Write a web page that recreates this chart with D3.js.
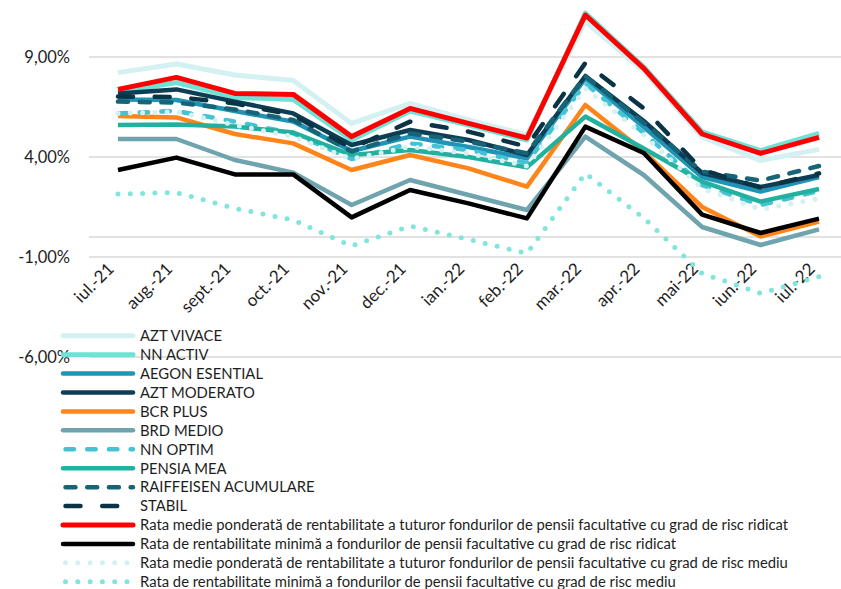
<!DOCTYPE html>
<html>
<head>
<meta charset="utf-8">
<script src="https://cdn.jsdelivr.net/npm/d3@7"></script>
<style>
  body { margin: 0; background: #fff; }
  svg { display: block; font-family: Lato, "Open Sans", sans-serif; }
</style>
</head>
<body>
<script>
"use strict";

// categories (months)
var months = ["iul.-21", "aug.-21", "sept.-21", "oct.-21", "nov.-21", "dec.-21", "ian.-22",
              "feb.-22", "mar.-22", "apr.-22", "mai-22", "iun.-22", "iul.-22"];

// y axis ticks (percent)
var yTicks = [9, 4, -1, -6];

// series values, %
var aztVivace   = [8.22, 8.65, 8.10, 7.82, 5.68, 6.68, 5.85, 5.10, 10.77, 8.30, 5.00, 3.82, 4.38];
var nnActiv     = [7.25, 7.72, 6.98, 6.88, 4.85, 6.30, 5.60, 4.85, 11.20, 8.50, 5.25, 4.32, 5.18];
var aegon       = [6.88, 6.85, 6.30, 5.77, 4.30, 5.02, 4.50, 3.93, 7.93, 5.50, 3.00, 2.27, 3.00];
var aztModerato = [7.18, 7.38, 6.77, 6.18, 4.60, 5.35, 4.85, 4.10, 8.05, 5.80, 3.20, 2.50, 3.10];
var bcrPlus     = [6.05, 5.98, 5.15, 4.68, 3.35, 4.10, 3.43, 2.52, 6.60, 4.27, 1.50, 0.02, 0.77];
var brdMedio    = [4.90, 4.90, 3.85, 3.22, 1.60, 2.85, 2.10, 1.35, 5.02, 3.10, 0.50, -0.40, 0.38];
var nnOptim     = [6.18, 6.30, 5.77, 5.18, 3.90, 4.68, 4.35, 3.70, 7.68, 5.20, 2.60, 1.60, 2.30];
var pensiaMea   = [5.60, 5.63, 5.52, 5.22, 4.10, 4.35, 4.00, 3.48, 6.02, 4.43, 2.77, 1.77, 2.40];
var raiffeisen  = [6.77, 6.72, 6.38, 5.85, 4.27, 5.18, 4.77, 4.18, 8.05, 5.70, 3.27, 2.82, 3.55];
var stabil      = [7.02, 7.00, 6.68, 6.10, 4.43, 5.77, 5.27, 4.52, 8.70, 6.43, 3.35, 2.47, 3.18];
var avgHigh     = [7.38, 7.98, 7.18, 7.13, 5.02, 6.43, 5.68, 4.95, 11.10, 8.43, 5.15, 4.18, 4.98];
var minHigh     = [3.35, 3.97, 3.13, 3.13, 0.98, 2.35, 1.68, 0.93, 5.52, 4.20, 1.12, 0.20, 0.92];
var avgMedium   = [6.18, 6.27, 5.60, 5.02, 3.90, 4.52, 4.18, 3.55, 7.43, 5.10, 2.43, 1.38, 1.93];
var minMedium   = [2.15, 2.22, 1.43, 0.85, -0.45, 0.55, -0.12, -0.82, 3.18, 0.95, -1.82, -2.82, -1.98];

var seriesNames = [
  "AZT VIVACE", "NN ACTIV", "AEGON ESENTIAL", "AZT MODERATO", "BCR PLUS", "BRD MEDIO",
  "NN OPTIM", "PENSIA MEA", "RAIFFEISEN ACUMULARE", "STABIL",
  "Rata medie ponderată de rentabilitate a tuturor fondurilor de pensii facultative cu grad de risc ridicat",
  "Rata de rentabilitate minimă a fondurilor de pensii facultative cu grad de risc ridicat",
  "Rata medie ponderată de rentabilitate a tuturor fondurilor de pensii facultative cu grad de risc mediu",
  "Rata de rentabilitate minimă a fondurilor de pensii facultative cu grad de risc mediu"
];
var seriesValues = [aztVivace, nnActiv, aegon, aztModerato, bcrPlus, brdMedio, nnOptim,
                    pensiaMea, raiffeisen, stabil, avgHigh, minHigh, avgMedium, minMedium];

// line styles, same order as the series
var styles = [
  {color: "#d3f0f2", w: 5,   dash: null},
  {color: "#6fe2d6", w: 5,   dash: null},
  {color: "#1f94b7", w: 4.5, dash: null},
  {color: "#0e3e56", w: 4.5, dash: null},
  {color: "#ff8419", w: 4.5, dash: null},
  {color: "#6fa3ae", w: 4.5, dash: null},
  {color: "#44c3d4", w: 4.5, dash: "8.5 13.2"},
  {color: "#22b19f", w: 4.5, dash: null},
  {color: "#176476", w: 4.5, dash: "10 11.7"},
  {color: "#0b3346", w: 4.5, dash: "15 21.7"},
  {color: "#ff0000", w: 5,   dash: null},
  {color: "#000000", w: 4.5, dash: null},
  {color: "#d3f0f2", w: 5,   dash: "0 12.3"},
  {color: "#80e5da", w: 5,   dash: "0 12.3"}
];

var width = 841;
var height = 589;

var svg = d3.select("body").append("svg")
  .attr("width", width)
  .attr("height", height);

var x = d3.scalePoint().domain(months).range([118, 819]);
var y = d3.scaleLinear().domain([-6, 9]).range([357, 57]);

//gridlines (plus the category axis line at 0)
svg.append("g").selectAll("line").data(yTicks.concat([0])).enter()
  .append("line")
  .attr("x1", 89).attr("x2", width)
  .attr("y1", function(d) { return y(d); })
  .attr("y2", function(d) { return y(d); })
  .attr("stroke", "#d9d9d9")
  .attr("stroke-width", 1.6);

//y axis labels
svg.append("g").selectAll("text").data(yTicks).enter()
  .append("text")
  .attr("x", 70)
  .attr("y", function(d) { return y(d); })
  .attr("dy", "0.36em")
  .attr("text-anchor", "end")
  .attr("font-size", 16.5)
  .attr("fill", "#1e1e1e")
  .text(function(d) { return d3.format(".2f")(d).replace(".", ",").replace("\u2212", "-") + "%"; });

//category labels, rotated
svg.append("g").selectAll("text").data(months).enter()
  .append("text")
  .attr("transform", function(d) { return "translate(" + (x(d) - 3) + ",270) rotate(-45)"; })
  .attr("text-anchor", "end")
  .attr("font-size", 17)
  .attr("fill", "#1e1e1e")
  .text(function(d) { return d; });

//series lines
var line = d3.line()
  .x(function(d, i) { return x(months[i]); })
  .y(function(d) { return y(d); });

svg.append("g").selectAll("path").data(seriesValues).enter()
  .append("path")
  .attr("d", function(d) { return line(d); })
  .attr("fill", "none")
  .attr("stroke", function(d, i) { return styles[i].color; })
  .attr("stroke-width", function(d, i) { return styles[i].w; })
  .attr("stroke-dasharray", function(d, i) { return styles[i].dash; })
  .attr("stroke-linecap", function(d, i) { return styles[i].dash ? "round" : "butt"; })
  .attr("stroke-linejoin", "round");

//legend
var legend = svg.append("g").selectAll("g").data(seriesNames).enter()
  .append("g")
  .attr("transform", function(d, i) { return "translate(0," + (335.7 + i * 18.93) + ")"; });

legend.append("line")
  .attr("x1", function(d, i) { return styles[i].dash ? 65.5 : 63; })
  .attr("x2", 133)
  .attr("stroke", function(d, i) { return styles[i].color; })
  .attr("stroke-width", function(d, i) { return styles[i].w; })
  .attr("stroke-dasharray", function(d, i) { return styles[i].dash; })
  .attr("stroke-linecap", "round");

legend.append("text")
  .attr("x", 140)
  .attr("dy", "0.36em")
  .attr("font-size", 14.8)
  .attr("fill", "#1e1e1e")
  .text(function(d) { return d; });
</script>
</body>
</html>
